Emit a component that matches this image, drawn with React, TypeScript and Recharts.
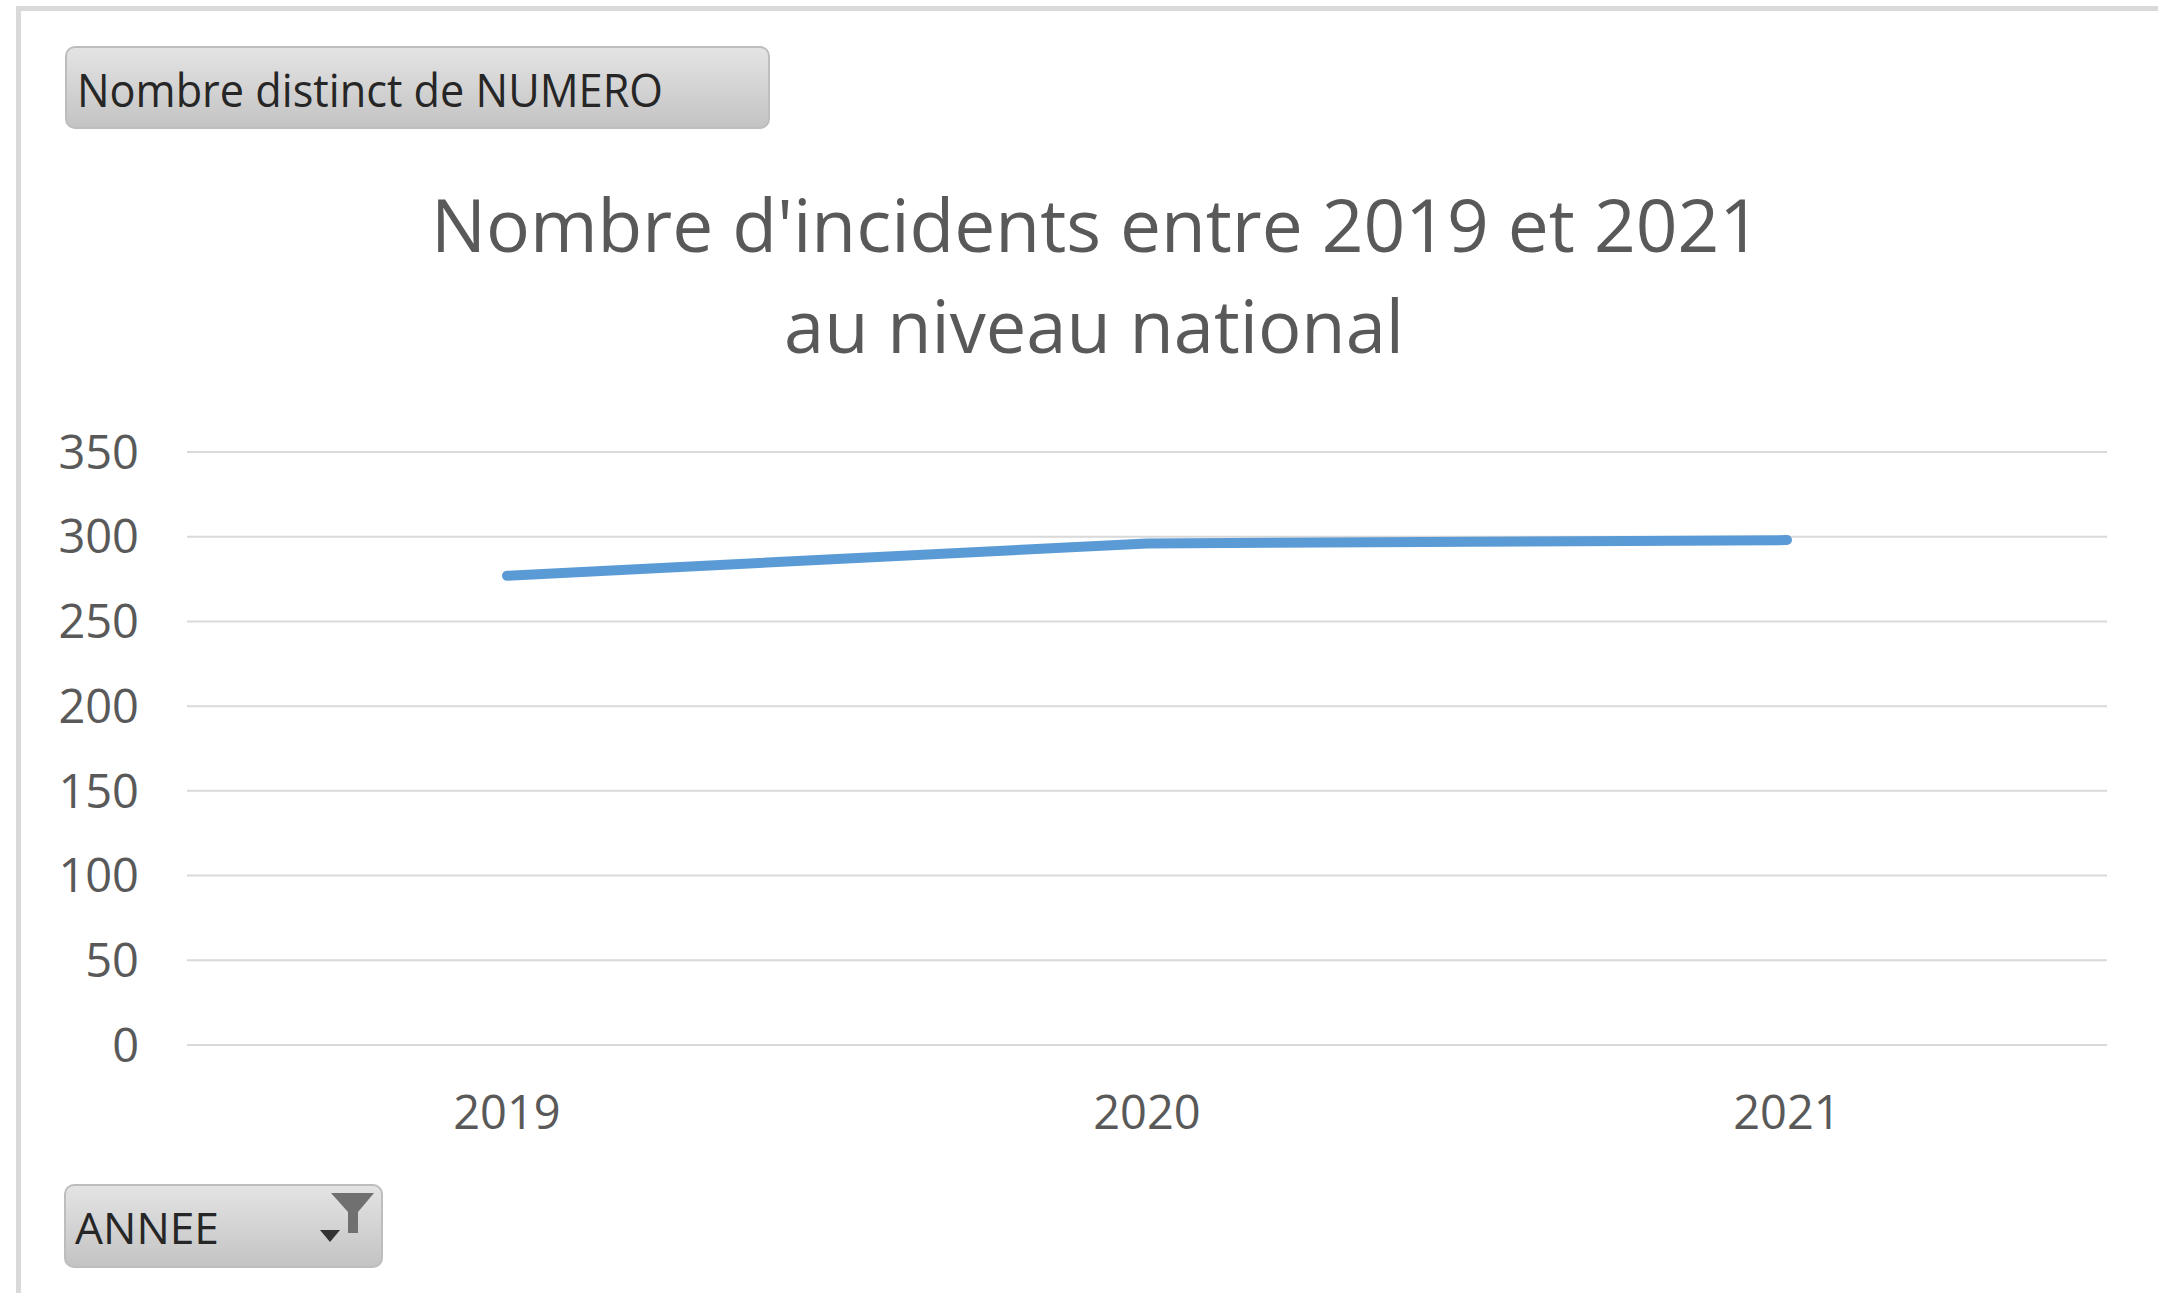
import React from "react";
import { LineChart, Line, XAxis, YAxis, CartesianGrid } from "recharts";

const years = ["2019", "2020", "2021"];
const incidents = [277, 296, 298];
const yTicks = [0, 50, 100, 150, 200, 250, 300, 350];
const titleLines = ["Nombre d'incidents entre 2019 et 2021", "au niveau national"];
const fieldButton = "Nombre distinct de NUMERO";
const axisButton = "ANNEE";

const data = years.map((y, i) => ({ year: y, value: incidents[i] }));

const FONT = "'Open Sans', 'DejaVu Sans', sans-serif";
const W = 2158;
const H = 1293;

const YTick = (props: any) => {
  const { y, payload } = props;
  return (
    <text x={139} y={y} dy="0.357em" textAnchor="end" fontFamily={FONT} fontSize={47} fill="#595959">
      {payload.value}
    </text>
  );
};

const XTick = (props: any) => {
  const { x, y, payload } = props;
  return (
    <text x={x} y={y + 84} textAnchor="middle" fontFamily={FONT} fontSize={47} fill="#595959">
      {payload.value}
    </text>
  );
};

const Decorations = () => (
  <svg width={W} height={H} style={{ position: "absolute", left: 0, top: 0 }}>
    <defs>
      <linearGradient id="btnGrad" x1="0" y1="0" x2="0" y2="1">
        <stop offset="0%" stopColor="#e4e4e4" />
        <stop offset="100%" stopColor="#c3c3c3" />
      </linearGradient>
    </defs>
    <rect x={0} y={0} width={W} height={H} fill="#ffffff" />
    <rect x={16} y={6} width={W - 16} height={5} fill="#d9d9d9" />
    <rect x={16} y={6} width={5} height={H - 6} fill="#d9d9d9" />
    <rect x={66} y={47} width={703} height={81} rx={9} fill="url(#btnGrad)" stroke="#bdbdbd" strokeWidth={2} />
    <text x={77} y={107} textLength={586} lengthAdjust="spacingAndGlyphs" fontFamily={FONT} fontSize={46} fill="#262626">
      {fieldButton}
    </text>
    <text x={1096} y={252} textAnchor="middle" textLength={1330} lengthAdjust="spacingAndGlyphs" fontFamily={FONT} fontSize={73} fill="#595959">
      {titleLines[0]}
    </text>
    <text x={1094} y={353} textAnchor="middle" textLength={620} lengthAdjust="spacingAndGlyphs" fontFamily={FONT} fontSize={73} fill="#595959">
      {titleLines[1]}
    </text>
    <rect x={65} y={1185} width={317} height={82} rx={9} fill="url(#btnGrad)" stroke="#bdbdbd" strokeWidth={2} />
    <text x={75} y={1244} textLength={144} lengthAdjust="spacingAndGlyphs" fontFamily={FONT} fontSize={44} fill="#262626">
      {axisButton}
    </text>
    <polygon points="331,1193 374,1193 358,1212 358,1233 348,1233 348,1212" fill="#707070" />
    <polygon points="320,1230 340,1230 330,1242" fill="#333333" />
  </svg>
);

export default function App() {
  return (
    <div style={{ position: "absolute", left: 0, top: 0, width: W, height: H, background: "#fff" }}>
      <Decorations />
      <div style={{ position: "absolute", left: 0, top: 0 }}>
        <LineChart width={W} height={H} data={data} margin={{ top: 452, right: 51, bottom: 148, left: 0 }}>
          <CartesianGrid horizontal vertical={false} stroke="#d9d9d9" strokeWidth={2} />
          <XAxis
            dataKey="year"
            axisLine={false}
            tickLine={false}
            tickSize={0}
            tickMargin={0}
            height={100}
            padding={{ left: 320, right: 320 }}
            tick={<XTick />}
            interval={0}
          />
          <YAxis
            domain={[0, 350]}
            ticks={yTicks}
            axisLine={false}
            tickLine={false}
            width={187}
            tick={<YTick />}
            interval={0}
          />
          <Line
            type="linear"
            dataKey="value"
            stroke="#5b9bd5"
            strokeWidth={10}
            strokeLinecap="round"
            dot={false}
            activeDot={false}
            isAnimationActive={false}
          />
        </LineChart>
      </div>
    </div>
  );
}
